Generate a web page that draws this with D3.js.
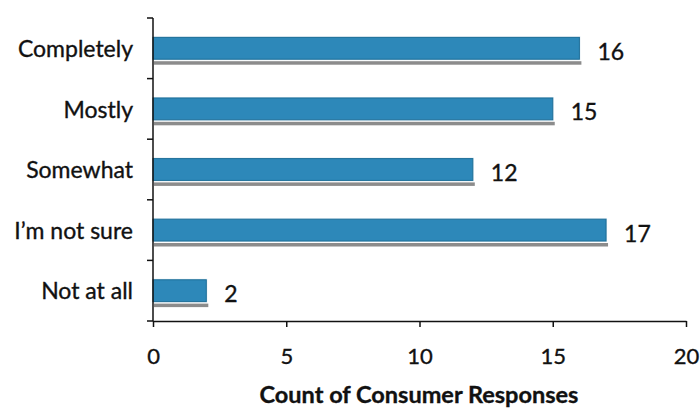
<!DOCTYPE html>
<html>
<head>
<meta charset="utf-8">
<script src="https://cdn.jsdelivr.net/npm/d3@7"></script>
<style>
  html, body { margin: 0; padding: 0; background: #fff; }
  svg { display: block; }
  text { font-family: Lato, "Open Sans", sans-serif; fill: #111; stroke: #111; stroke-width: 0.35px; }
</style>
</head>
<body>
<svg id="chart" width="700" height="409"></svg>
<script>
// Survey answers and how many consumers gave each one
const categories = ["Completely", "Mostly", "Somewhat", "I\u2019m not sure", "Not at all"];
const counts = [16, 15, 12, 17, 2];
const xTicks = [0, 5, 10, 15, 20];
const xTitle = "Count of Consumer Responses";

const W = 700, H = 409;
const margin = { top: 18, right: 14, bottom: 88, left: 153 };
const plotW = W - margin.left - margin.right;
const plotH = H - margin.top - margin.bottom;

const svg = d3.select("#chart");
const g = svg.append("g").attr("transform", `translate(${margin.left},${margin.top})`);

const x = d3.scaleLinear().domain([0, 20]).range([0, plotW]);
const y = d3.scaleBand().domain(categories).range([0, plotH]).paddingInner(0.64).paddingOuter(0.32);

const barH = y.bandwidth();

// Bars: grey drop shadow, pale rim, blue face
const bars = g.selectAll("g.bar").data(categories).join("g").attr("class", "bar");
bars.append("rect")
  .attr("x", 1)
  .attr("y", d => y(d) + barH + 2)
  .attr("width", (d, i) => x(counts[i]) + 1)
  .attr("height", 3.5)
  .attr("fill", "#8c8c8c");
bars.append("rect")
  .attr("x", 0)
  .attr("y", d => y(d) - 1)
  .attr("width", (d, i) => x(counts[i]) + 1)
  .attr("height", barH + 2)
  .attr("fill", "#dce9f0");
bars.append("rect")
  .attr("x", 0)
  .attr("y", d => y(d))
  .attr("width", (d, i) => x(counts[i]))
  .attr("height", barH)
  .attr("fill", "#2d88b9")
  .attr("stroke", "#1d6e98")
  .attr("stroke-width", 1);

// Value labels at the end of each bar
g.selectAll("text.value").data(categories).join("text")
  .attr("class", "value")
  .attr("x", (d, i) => x(counts[i]) + 18)
  .attr("y", d => y(d) + barH / 2)
  .attr("dy", "0.5em")
  .attr("font-size", 23)
  .text((d, i) => counts[i]);

// Category axis
const yAxis = g.append("g")
  .call(d3.axisLeft(y).tickSize(0).tickPadding(20));
yAxis.select(".domain").remove();
yAxis.selectAll("text").attr("font-size", 23).attr("dy", "0.38em").attr("fill", "#111");

// Vertical axis line with ticks at band boundaries
const bounds = d3.range(categories.length + 1).map(i => i * plotH / categories.length);
g.append("line")
  .attr("x1", 0).attr("x2", 0).attr("y1", 0).attr("y2", plotH)
  .attr("stroke", "#111").attr("stroke-width", 1.5);
g.selectAll("line.ytick").data(bounds).join("line")
  .attr("class", "ytick")
  .attr("x1", -6).attr("x2", 0)
  .attr("y1", d => d).attr("y2", d => d)
  .attr("stroke", "#111").attr("stroke-width", 1.5);

// Value axis
const xAxis = g.append("g")
  .attr("transform", `translate(0,${plotH})`)
  .call(d3.axisBottom(x).tickValues(xTicks).tickSize(6).tickPadding(21).tickSizeOuter(0));
xAxis.select(".domain").attr("stroke", "#111").attr("stroke-width", 1.5);
xAxis.selectAll(".tick line").attr("stroke", "#111").attr("stroke-width", 1.5);
xAxis.selectAll("text").attr("font-size", 22).attr("fill", "#111");

svg.append("text")
  .attr("x", 419)
  .attr("y", 403)
  .attr("text-anchor", "middle")
  .attr("font-size", 23.5)
  .attr("font-weight", "bold")
  .text(xTitle);
</script>
</body>
</html>
